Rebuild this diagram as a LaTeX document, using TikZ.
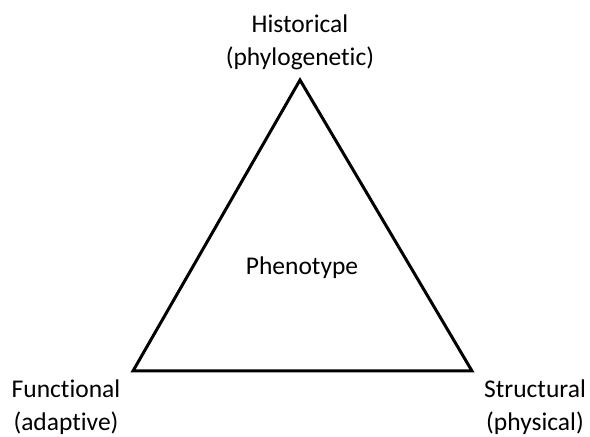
\documentclass[tikz,border=0pt]{standalone}
\usepackage{fontspec}
\setmainfont[Ligatures={NoCommon}]{Carlito}
\begin{document}
\begin{tikzpicture}[x=1pt,y=1pt,
  lbl/.style={align=center,inner sep=0pt,font=\fontsize{25.5}{33}\selectfont}]
\useasboundingbox (0,0) rectangle (590,437);
\coordinate (T) at (300,357);
\coordinate (L) at (133,66);
\coordinate (R) at (472,66);
\draw[line width=3pt,line join=miter] (T) -- (L) -- (R) -- cycle;
\node[lbl] (hist) at (300,395) {Historical\\(phylogenetic)};
\node[lbl] (func) at (66,29.5) {Functional\\(adaptive)};
\node[lbl] (struc) at (535,29.5) {Structural\\(physical)};
\node[lbl] (phen) at (302,169) {Phenotype};
\end{tikzpicture}
\end{document}
